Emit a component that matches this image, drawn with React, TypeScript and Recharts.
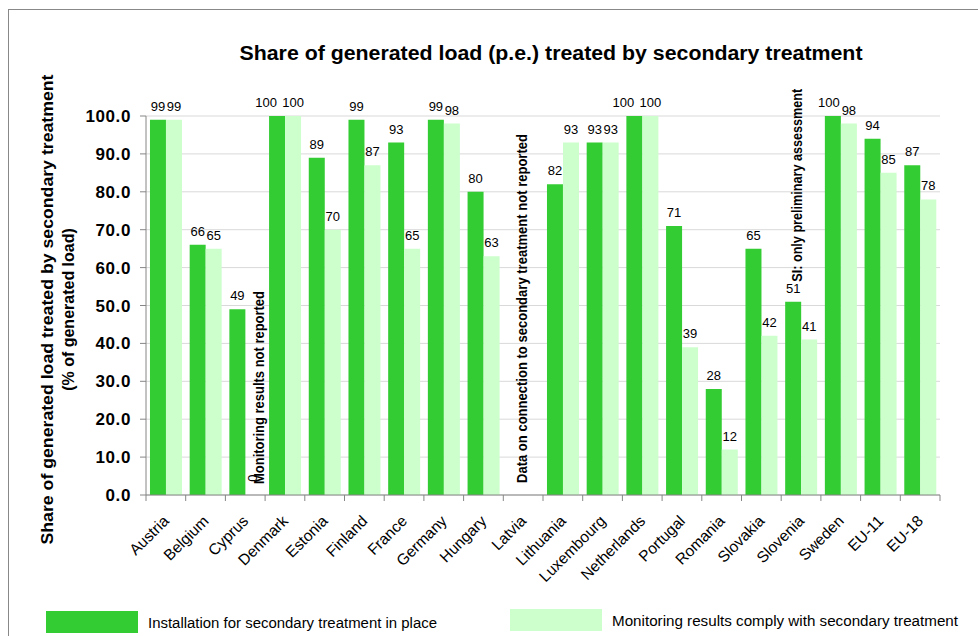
import { BarChart, Bar, XAxis, YAxis, CartesianGrid, LabelList, ReferenceDot } from "recharts";

const countries = [
  "Austria", "Belgium", "Cyprus", "Denmark", "Estonia", "Finland", "France", "Germany", "Hungary", "Latvia",
  "Lithuania", "Luxembourg", "Netherlands", "Portugal", "Romania", "Slovakia", "Slovenia", "Sweden", "EU-11", "EU-18",
];

// Installation for secondary treatment in place (%)
const installed = [99, 66, 49, 100, 89, 99, 93, 99, 80, null, 82, 93, 100, 71, 28, 65, 51, 100, 94, 87];

// Monitoring results comply with secondary treatment (%)
const compliant = [99, 65, 0, 100, 70, 87, 65, 98, 63, null, 93, 93, 100, 39, 12, 42, 41, 98, 85, 78];

const yTicks = [0, 10, 20, 30, 40, 50, 60, 70, 80, 90, 100];

const seriesNames = [
  "Installation for secondary treatment in place",
  "Monitoring results comply with secondary treatment",
];

const GREEN = "#33cc33";
const LIGHT = "#ccffcc";
const AXIS = "#868686";
const FONT = "'Liberation Sans', Arial, sans-serif";

const data = countries.map((country, i) => ({
  country,
  installed: installed[i],
  compliant: compliant[i],
}));

function CountryTick(props: any) {
  const { x, y, payload, index } = props;
  const half = payload?.offset || 19.85;
  const last = index === countries.length - 1;
  const ax = x + 4;
  const ay = y + 27;
  return (
    <g>
      <line x1={x - half} x2={x - half} y1={y} y2={y + 6} stroke={AXIS} />
      {last && <line x1={x + half} x2={x + half} y1={y} y2={y + 6} stroke={AXIS} />}
      <text
        x={ax}
        y={ay}
        textAnchor="end"
        transform={`rotate(-45 ${ax} ${ay})`}
        fontFamily={FONT}
        fontSize={15.5}
        fill="#000"
      >
        {payload.value}
      </text>
    </g>
  );
}

function YTitle(props: any) {
  const vb = props.viewBox || { y: 116, height: 379 };
  const cy = vb.y + vb.height / 2 + 4;
  return (
    <g fontFamily={FONT} fontWeight="bold" fontSize={16} fill="#000" textAnchor="middle">
      <text x={53} y={cy} transform={`rotate(-90 53 ${cy})`} textLength={470} lengthAdjust="spacingAndGlyphs">
        Share of generated load treated by secondary treatment
      </text>
      <text x={74} y={cy} transform={`rotate(-90 74 ${cy})`}>
        (% of generated load)
      </text>
    </g>
  );
}

// value labels: the dark label steps aside when both labels of a pair are wide and level.
// The label value carries the country so the pair can be looked up.
function pairLabel(series: "installed" | "compliant") {
  return (props: any) => {
    const { x, y, width, value } = props;
    const i = countries.indexOf(value);
    if (i < 0) return null;
    const v = series === "installed" ? installed[i] : compliant[i];
    if (v == null) return null;
    const a = installed[i] ?? 0;
    const b = compliant[i] ?? 0;
    let dx = 0;
    if (series === "installed" && a >= 100 && b >= 100) dx = -11;
    else if (series === "installed" && a >= 100 && b >= 95) dx = -4;
    return (
      <text x={x + width / 2 + dx} y={y - 9} textAnchor="middle" fontFamily={FONT} fontSize={13} fill="#000">
        {v}
      </text>
    );
  };
}

const countryOf = (entry: any) => entry?.payload?.country;

// rotated text standing on the x axis (or above a bar)
function rotatedText(text: string, dx: number, dy: number, opts: { len?: number; bold?: boolean; size?: number; anchor?: string }) {
  return (props: any) => {
    const px = props.cx + dx;
    const py = props.cy + dy;
    return (
      <text
        x={px}
        y={py}
        transform={`rotate(-90 ${px} ${py})`}
        fontFamily={FONT}
        fontWeight={opts.bold ? "bold" : "normal"}
        fontSize={opts.size ?? 14}
        textAnchor={opts.anchor ?? "start"}
        fill="#000"
        textLength={opts.len}
        lengthAdjust={opts.len ? "spacingAndGlyphs" : undefined}
      >
        {text}
      </text>
    );
  };
}

function LegendItem({ color, label, left, top, textLen }: any) {
  return (
    <div style={{ position: "absolute", left, top, display: "flex", alignItems: "center" }}>
      <div style={{ width: 92, height: 22, background: color }} />
      <svg width={textLen + 10} height={22} style={{ marginLeft: 10 }}>
        <text x={0} y={17} fontFamily={FONT} fontSize={14} fill="#000" textLength={textLen} lengthAdjust="spacingAndGlyphs">
          {label}
        </text>
      </svg>
    </div>
  );
}

export default function App() {
  return (
    <div style={{ position: "absolute", left: 0, top: 0, width: 978, height: 636, overflow: "hidden", background: "#fff" }}>
      <div style={{ position: "absolute", left: 8, top: 9, width: 990, height: 660, borderLeft: "1px solid #888", borderTop: "1px solid #888" }} />
      <svg style={{ position: "absolute", left: 0, top: 0 }} width={978} height={80}>
        <text
          x={551}
          y={60}
          textAnchor="middle"
          fontFamily={FONT}
          fontWeight="bold"
          fontSize={20}
          fill="#000"
          textLength={623}
          lengthAdjust="spacingAndGlyphs"
        >
          Share of generated load (p.e.) treated by secondary treatment
        </text>
      </svg>
      <div style={{ position: "absolute", left: 0, top: 0 }}>
        <BarChart
          width={978}
          height={636}
          data={data}
          margin={{ top: 116, right: 38, left: 86, bottom: 101 }}
          barCategoryGap="10%"
          barGap={0}
        >
          <CartesianGrid vertical={false} stroke="#d9d9d9" />
          <XAxis
            dataKey="country"
            interval={0}
            height={40}
            tickLine={false}
            tickSize={0}
            tickMargin={0}
            axisLine={{ stroke: AXIS }}
            tick={<CountryTick />}
          />
          <YAxis
            width={60}
            domain={[0, 100]}
            ticks={yTicks}
            interval={0}
            tickFormatter={(v: number) => v.toFixed(1)}
            tickSize={6}
            tickMargin={9}
            axisLine={{ stroke: AXIS }}
            tickLine={{ stroke: AXIS }}
            tick={{ fontFamily: FONT, fontWeight: "bold", fontSize: 17, fill: "#000", letterSpacing: 0.6 }}
            label={<YTitle />}
          />
          <Bar dataKey="installed" name={seriesNames[0]} fill={GREEN} isAnimationActive={false}>
            <LabelList valueAccessor={countryOf} content={pairLabel("installed")} />
          </Bar>
          <Bar dataKey="compliant" name={seriesNames[1]} fill={LIGHT} isAnimationActive={false}>
            <LabelList valueAccessor={countryOf} content={pairLabel("compliant")} />
          </Bar>
          {/* Cyprus has a zero-height compliance bar, its value label is drawn here */}
          <ReferenceDot
            x="Cyprus"
            y={compliant[2] as number}
            r={0}
            shape={rotatedText(String(compliant[2]), 12, -17, { size: 13, anchor: "middle" })}
          />
          <ReferenceDot
            x="Cyprus"
            y={0}
            r={0}
            shape={rotatedText("Monitoring results not reported", 19, -11, { len: 193, bold: true })}
          />
          <ReferenceDot
            x="Latvia"
            y={0}
            r={0}
            shape={rotatedText("Data on connection to secondary treatment not reported", 4, -12, { len: 349, bold: true })}
          />
          <ReferenceDot
            x="Slovenia"
            y={installed[16] as number}
            r={0}
            shape={rotatedText("SI: only preliminary assessment", 1, -20, { len: 193, bold: true })}
          />
        </BarChart>
      </div>
      <LegendItem color={GREEN} label={seriesNames[0]} left={46} top={611} textLen={289} />
      <LegendItem color={LIGHT} label={seriesNames[1]} left={510} top={609} textLen={346} />
    </div>
  );
}
